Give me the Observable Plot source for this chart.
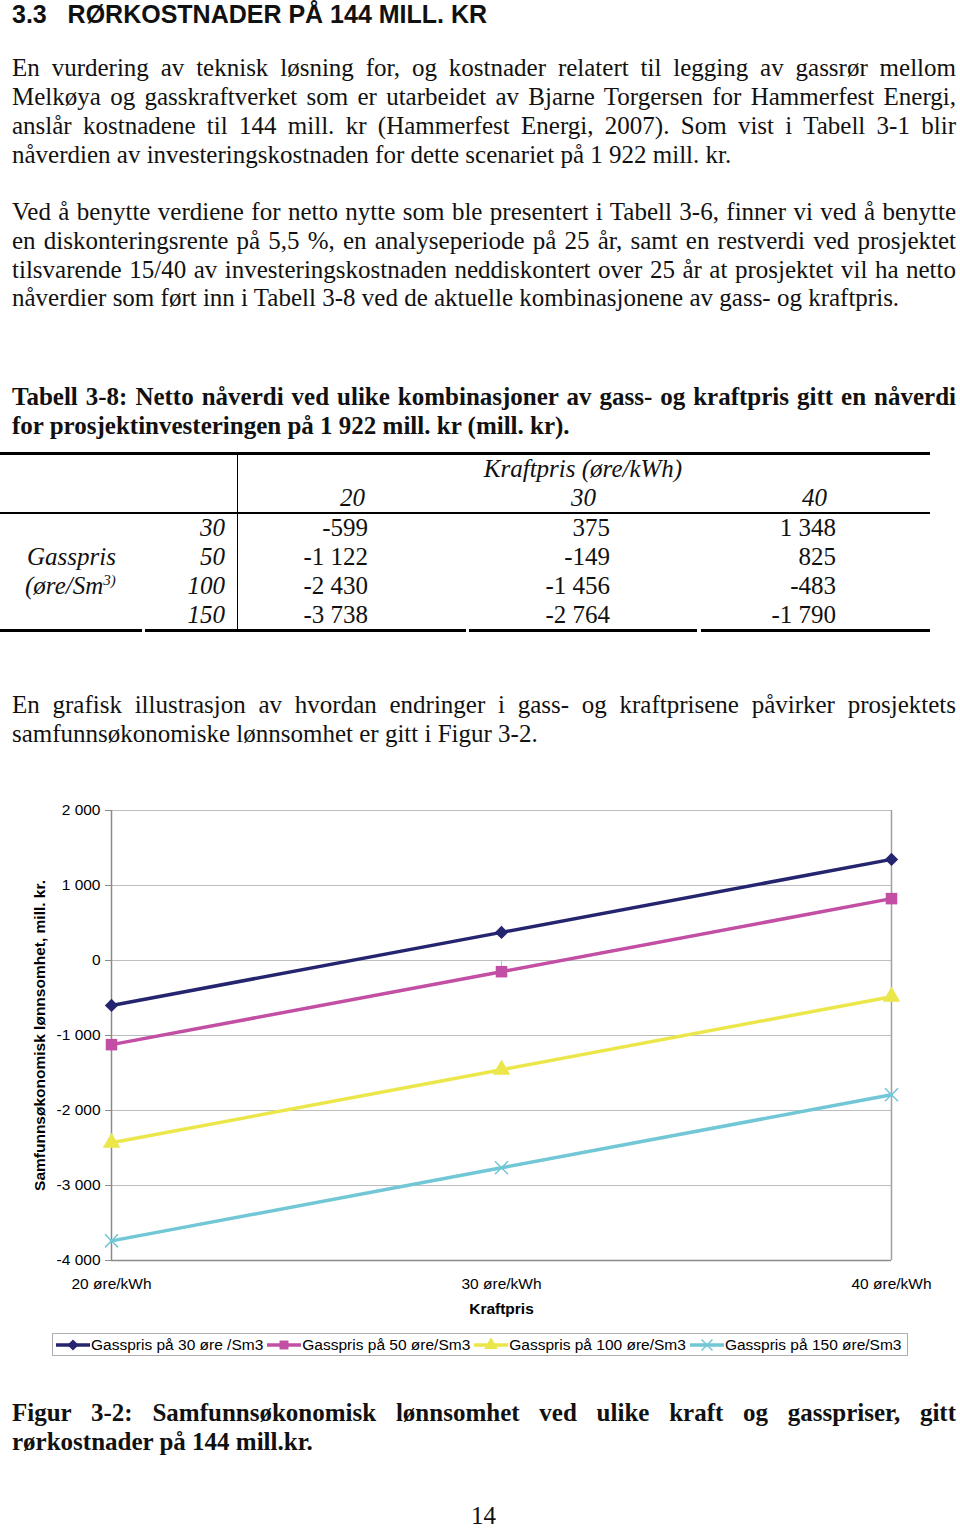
<!DOCTYPE html>
<html>
<head>
<meta charset="utf-8">
<script src="https://cdn.jsdelivr.net/npm/d3@7"></script>
<script src="https://cdn.jsdelivr.net/npm/@observablehq/plot@0.6"></script>
<style>
  html, body { margin: 0; padding: 0; background: #fff; }
  #page { position: relative; width: 960px; height: 1528px; overflow: hidden; color: #111; }
  .t { position: absolute; font-family: "Liberation Serif", "Times New Roman", serif; font-size: 25px; white-space: nowrap; height: 30px; line-height: 30px; }
  .j { left: 12px; width: 944px; text-align: justify; text-align-last: justify; white-space: normal; }
  .l { left: 12px; }
  .b { font-weight: bold; }
  .i { font-style: italic; }
  .h { position: absolute; left: 12px; font-family: "Liberation Sans", Arial, sans-serif; font-weight: bold; font-size: 25px; height: 28px; line-height: 28px; white-space: pre; }
  .rule { position: absolute; background: #000; }
  .r { text-align: right; }
  .c { text-align: center; }
  #chart { position: absolute; left: 0; top: 790px; }
  #legend { position: absolute; left: 52px; top: 1333px; width: 854px; height: 21px; border: 1px solid #b0b0b0; display: flex; align-items: center; font-family: "Liberation Sans", Arial, sans-serif; font-size: 15.5px; color: #000; white-space: nowrap; }
  #legend .item { display: flex; align-items: center; margin-left: 3px; }
  #legend .item + .item { margin-left: 4px; }
  #legend svg { margin-right: 1px; }
</style>
</head>
<body>
<div id="page">
  <div class="h" style="top:0px;">3.3   RØRKOSTNADER PÅ 144 MILL. KR</div>

  <div class="t j" style="top:53px;">En vurdering av teknisk løsning for, og kostnader relatert til legging av gassrør mellom</div>
  <div class="t j" style="top:82px;">Melkøya og gasskraftverket som er utarbeidet av Bjarne Torgersen for Hammerfest Energi,</div>
  <div class="t j" style="top:111px;">anslår kostnadene til 144 mill. kr (Hammerfest Energi, 2007). Som vist i Tabell 3-1 blir</div>
  <div class="t l" style="top:140px;">nåverdien av investeringskostnaden for dette scenariet på 1 922 mill. kr.</div>

  <div class="t j" style="top:197px;">Ved å benytte verdiene for netto nytte som ble presentert i Tabell 3-6, finner vi ved å benytte</div>
  <div class="t j" style="top:226px;">en diskonteringsrente på 5,5 %, en analyseperiode på 25 år, samt en restverdi ved prosjektet</div>
  <div class="t j" style="top:255px;">tilsvarende 15/40 av investeringskostnaden neddiskontert over 25 år at prosjektet vil ha netto</div>
  <div class="t l" style="top:283px;">nåverdier som ført inn i Tabell 3-8 ved de aktuelle kombinasjonene av gass- og kraftpris.</div>

  <div class="t j b" style="top:382px;">Tabell 3-8: Netto nåverdi ved ulike kombinasjoner av gass- og kraftpris gitt en nåverdi</div>
  <div class="t l b" style="top:411px;">for prosjektinvesteringen på 1 922 mill. kr (mill. kr).</div>

  <div id="table"></div>

  <div class="t j" style="top:690px;">En grafisk illustrasjon av hvordan endringer i gass- og kraftprisene påvirker prosjektets</div>
  <div class="t l" style="top:719px;">samfunnsøkonomiske lønnsomhet er gitt i Figur 3-2.</div>

  <div id="chart"></div>
  <div id="legend"></div>

  <div class="t j b" style="top:1398px;">Figur 3-2: Samfunnsøkonomisk lønnsomhet ved ulike kraft og gasspriser, gitt</div>
  <div class="t l b" style="top:1427px;">rørkostnader på 144 mill.kr.</div>

  <div class="t" style="top:1504px; left:471px; height:22px; line-height:24px; overflow:visible;">14</div>
</div>

<script>
// ---------- data ----------
const kraftpris = [20, 30, 40];                 // øre/kWh
const gasspris = [30, 50, 100, 150];            // øre/Sm3
const npv30 = [-599, 375, 1348];
const npv50 = [-1122, -149, 825];
const npv100 = [-2430, -1456, -483];
const npv150 = [-3738, -2764, -1790];
const seriesNames = ["Gasspris på 30 øre /Sm3", "Gasspris på 50 øre/Sm3", "Gasspris på 100 øre/Sm3", "Gasspris på 150 øre/Sm3"];
const seriesColors = ["#25256f", "#c24fa3", "#ebe74a", "#72c7d6"];
const seriesSymbols = ["diamond2", "square", "triangle", "times"];
const yTicks = [-4000, -3000, -2000, -1000, 0, 1000, 2000];
const yLabel = "Samfunnsøkonomisk lønnsomhet, mill. kr.";
const xLabel = "Kraftpris";
const tableHeader = "Kraftpris (øre/kWh)";

const rows = [npv30, npv50, npv100, npv150];
const data = [];
rows.forEach((vals, i) => vals.forEach((v, j) => data.push({kraft: kraftpris[j], value: v, series: seriesNames[i]})));

const loc = d3.formatLocale({decimal: ",", thousands: " ", grouping: [3], currency: ["", ""], minus: "-"});
const fmt = loc.format(",");

// ---------- table ----------
(function buildTable() {
  const t = document.getElementById("table");
  const add = (html, cls, style) => { const d = document.createElement("div"); d.className = cls; d.setAttribute("style", style); d.innerHTML = html; t.appendChild(d); };
  add("", "rule", "left:0;top:452px;width:930px;height:3px;");
  add("", "rule", "left:237px;top:455px;width:1px;height:175px;");
  add("", "rule", "left:0;top:512px;width:930px;height:1.5px;");
  [[0,142],[145,466],[469,697],[701,930]].forEach(([a,b]) => add("", "rule", `left:${a}px;top:629px;width:${b-a}px;height:3px;`));
  add(tableHeader, "t i c", "top:454px;left:433px;width:300px;");
  const colRight = [368, 610, 836];
  const headRight = [365, 596, 827];
  kraftpris.forEach((k, j) => add(String(k), "t i r", `top:483px;left:${headRight[j]-100}px;width:100px;`));
  gasspris.forEach((g, i) => {
    const top = 513 + i * 29;
    add(String(g), "t i r", `top:${top}px;left:125px;width:100px;`);
    rows[i].forEach((v, j) => add(fmt(v), "t r", `top:${top}px;left:${colRight[j]-150}px;width:150px;`));
  });
  add("Gasspris", "t i", "top:542px;left:27px;");
  add("(øre/Sm<sup style='font-size:15px;vertical-align:0;position:relative;top:-9px'>3)</sup>", "t i", "top:571px;left:25px;");
})();

// ---------- chart ----------
const chart = Plot.plot({
  width: 960,
  height: 540,
  marginLeft: 111,
  marginRight: 69,
  marginTop: 20,
  marginBottom: 70,
  style: {fontFamily: "Liberation Sans, Arial, sans-serif", fontSize: "15.5px", color: "#000", background: "#fff", overflow: "visible"},
  x: {domain: [20, 40]},
  y: {domain: [-4000, 2000]},
  color: {domain: seriesNames, range: seriesColors},
  marks: [
    Plot.gridY(yTicks, {stroke: "#bdbdbd", strokeOpacity: 1, strokeWidth: 1}),
    Plot.ruleX([kraftpris[0]], {stroke: "#8a8a8a", strokeWidth: 1.5}),
    Plot.ruleX([kraftpris[kraftpris.length - 1]], {stroke: "#a0a0a0", strokeWidth: 1.5}),
    Plot.ruleY([yTicks[0]], {stroke: "#8a8a8a", strokeWidth: 1.5}),
    Plot.ruleX(kraftpris.slice(1, 2), {y1: 0, y2: -80, stroke: "#bdbdbd"}),
    Plot.axisY(yTicks, {tickSize: 6, tickPadding: 5, tickFormat: fmt, stroke: "#8a8a8a", fill: "#000", label: null}),
    Plot.axisX(kraftpris, {tickSize: 0, tickPadding: 17, tickFormat: d => d + " øre/kWh", fill: "#000", label: null}),
    Plot.text([yLabel], {frameAnchor: "left", textAnchor: "middle", rotate: -90, dx: -71, fontWeight: "bold", fontSize: 15.5, fill: "#000", lineAnchor: "middle"}),
    Plot.text([xLabel], {frameAnchor: "bottom", textAnchor: "middle", dy: 49, fontWeight: "bold", fontSize: 15.5, fill: "#000", lineAnchor: "middle"}),
    Plot.line(data, {x: "kraft", y: "value", z: "series", stroke: "series", strokeWidth: 3.5}),
    ...seriesNames.map((s, i) => Plot.dot(data.filter(d => d.series === s), {
      x: "kraft", y: "value", symbol: () => seriesSymbols[i],
      r: i === 0 ? 6 : (i === 3 ? 6 : 6.5),
      fill: i === 3 ? "none" : seriesColors[i],
      stroke: seriesColors[i],
      strokeWidth: i === 3 ? 1.5 : 0
    }))
  ],
  symbol: {domain: seriesSymbols, range: seriesSymbols}
});
document.getElementById("chart").appendChild(chart);

// ---------- legend ----------
const legend = document.getElementById("legend");
seriesNames.forEach((s, i) => {
  const item = document.createElement("div");
  item.className = "item";
  const w = 34, h = 14;
  const sw = d3.create("svg").attr("width", w).attr("height", h);
  sw.append("line").attr("x1", 0).attr("x2", w).attr("y1", h / 2).attr("y2", h / 2).attr("stroke", seriesColors[i]).attr("stroke-width", 3.5);
  const sym = {diamond2: d3.symbolDiamond2, square: d3.symbolSquare, triangle: d3.symbolTriangle, times: d3.symbolTimes}[seriesSymbols[i]];
  sw.append("path").attr("d", d3.symbol(sym, 80)()).attr("transform", `translate(${w/2},${h/2})`)
    .attr("fill", i === 3 ? "none" : seriesColors[i]).attr("stroke", seriesColors[i]).attr("stroke-width", i === 3 ? 1.5 : 0);
  item.appendChild(sw.node());
  const span = document.createElement("span");
  span.textContent = s;
  item.appendChild(span);
  legend.appendChild(item);
});
</script>
</body>
</html>
